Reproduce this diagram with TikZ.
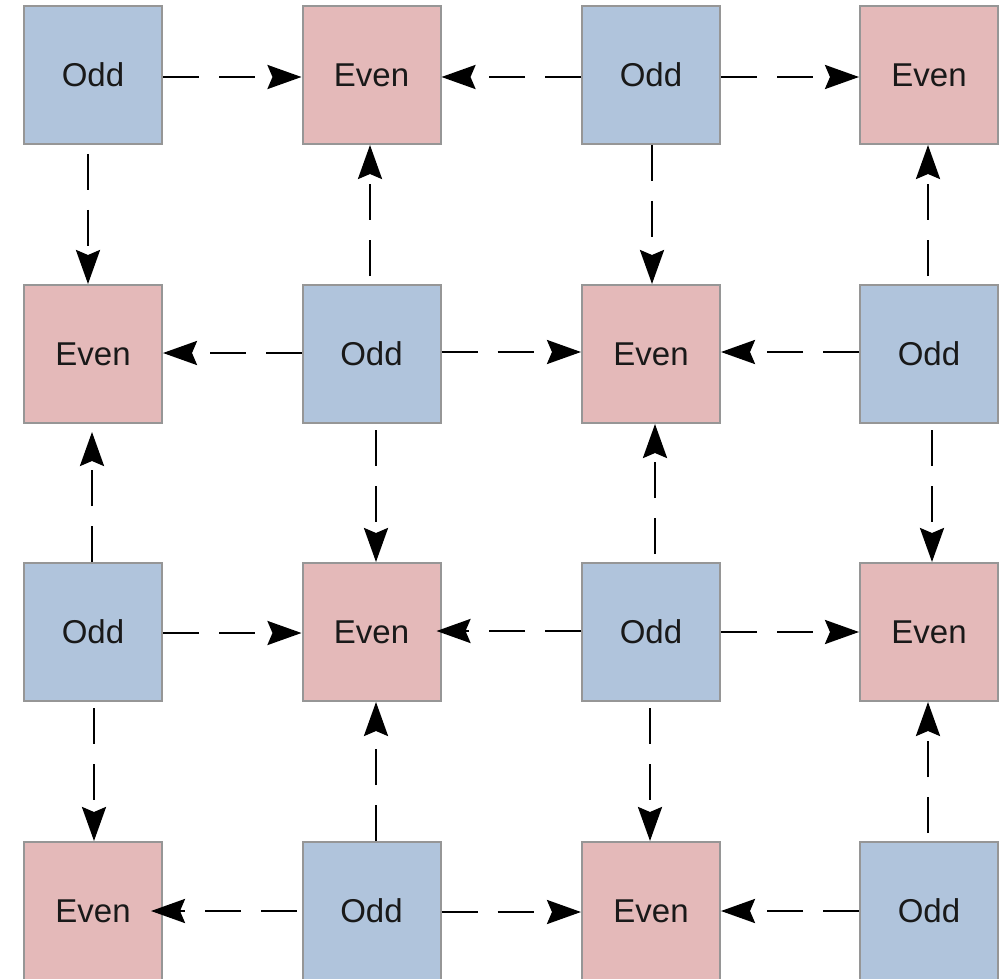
\documentclass[tikz,border=0pt]{standalone}
\usepackage{fontspec}
\setmainfont{Liberation Sans}
\usetikzlibrary{arrows.meta,calc}
\definecolor{oddblue}{RGB}{176,196,220}
\definecolor{evenpink}{RGB}{228,185,185}
\definecolor{boxgray}{RGB}{150,150,150}
\tikzset{
  cell/.style={minimum width=138pt,minimum height=138pt,inner sep=0pt,draw=boxgray,line width=2pt,
    font=\fontsize{33}{38}\selectfont,text=black!90},
  oddcell/.style={cell,fill=oddblue},
  evencell/.style={cell,fill=evenpink},
  conn/.style={line width=2.8pt,dash pattern=on 36pt off 20pt,line cap=butt,
    -{Stealth[length=34pt,width=24pt,inset=5pt]}}
}
\begin{document}
\begin{tikzpicture}[x=1pt,y=-1pt]
\useasboundingbox (0,0) rectangle (1005,979);
% row 1
\node[oddcell]  (o11) at (93,75)    {Odd};
\node[evencell] (e12) at (371.5,75) {Even};
\node[oddcell]  (o13) at (651,75)   {Odd};
\node[evencell] (e14) at (929,75)   {Even};
% row 2
\node[evencell] (e21) at (93,354)    {Even};
\node[oddcell]  (o22) at (371.5,354) {Odd};
\node[evencell] (e23) at (651,354)   {Even};
\node[oddcell]  (o24) at (929,354)   {Odd};
% row 3
\node[oddcell]  (o31) at (93,632)    {Odd};
\node[evencell] (e32) at (371.5,632) {Even};
\node[oddcell]  (o33) at (651,632)   {Odd};
\node[evencell] (e34) at (929,632)   {Even};
% row 4
\node[evencell] (e41) at (93,911)    {Even};
\node[oddcell]  (o42) at (371.5,911) {Odd};
\node[evencell] (e43) at (651,911)   {Even};
\node[oddcell]  (o44) at (929,911)   {Odd};
% row 1 horizontals
\draw[conn] ($(o11.east)+(0,2)$) -- ($(e12.west)+(0,2)$);
\draw[conn] ($(o13.west)+(0,2)$) -- ($(e12.east)+(0,2)$);
\draw[conn] ($(o13.east)+(0,2)$) -- ($(e14.west)+(0,2)$);
% rows 1-2 verticals
\draw[conn] ($(o11.south)+(-5,9)$) -- ($(e21.north)+(-5,0)$);
\draw[conn] ($(o22.north)+(-1.5,-8)$) -- ($(e12.south)+(-1.5,0)$);
\draw[conn] ($(o13.south)+(1,0)$) -- ($(e23.north)+(1,0)$);
\draw[conn] ($(o24.north)+(-1,-8)$) -- ($(e14.south)+(-1,0)$);
% row 2 horizontals
\draw[conn] ($(o22.west)+(0,-1)$) -- ($(e21.east)+(0,-1)$);
\draw[conn] ($(o22.east)+(0,-2)$) -- ($(e23.west)+(0,-2)$);
\draw[conn] ($(o24.west)+(0,-2)$) -- ($(e23.east)+(0,-2)$);
% rows 2-3 verticals
\draw[conn] ($(o31.north)+(-1,0)$) -- ($(e21.south)+(-1,8)$);
\draw[conn] ($(o22.south)+(4.5,6)$) -- ($(e32.north)+(4.5,0)$);
\draw[conn] ($(o33.north)+(4,-8)$) -- ($(e23.south)+(4,0)$);
\draw[conn] ($(o24.south)+(3,6)$) -- ($(e34.north)+(3,0)$);
% row 3 horizontals
\draw[conn] ($(o31.east)+(0,1)$) -- ($(e32.west)+(0,1)$);
\draw[conn] ($(o33.west)+(0,-1)$) -- ($(e32.east)+(-5,-1)$);
\draw[conn] ($(o33.east)+(0,0)$) -- ($(e34.west)+(0,0)$);
% rows 3-4 verticals
\draw[conn] ($(o31.south)+(1,6)$) -- ($(e41.north)+(1,0)$);
\draw[conn] ($(o42.north)+(4.5,0)$) -- ($(e32.south)+(4.5,0)$);
\draw[conn] ($(o33.south)+(-1,6)$) -- ($(e43.north)+(-1,0)$);
\draw[conn] ($(o44.north)+(-1,-8)$) -- ($(e34.south)+(-1,0)$);
% row 4 horizontals
\draw[conn] ($(o42.west)+(-5,0)$) -- ($(e41.east)+(-12,0)$);
\draw[conn] ($(o42.east)+(0,1)$) -- ($(e43.west)+(0,1)$);
\draw[conn] ($(o44.west)+(0,0)$) -- ($(e43.east)+(0,0)$);
\end{tikzpicture}
\end{document}
